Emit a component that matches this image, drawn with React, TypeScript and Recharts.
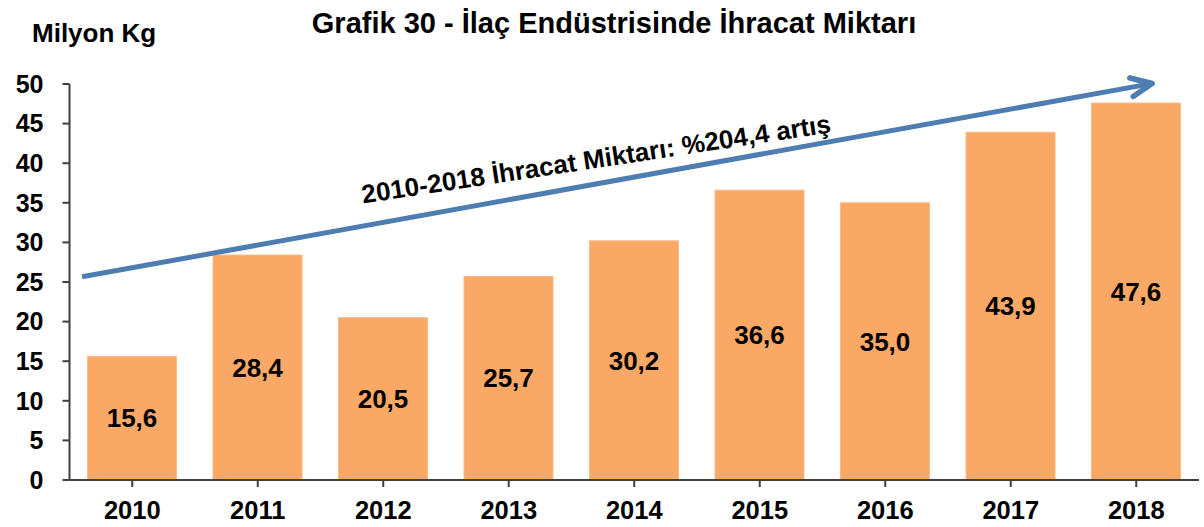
import React from 'react';
import { BarChart, Bar, XAxis, YAxis, LabelList, ReferenceLine } from 'recharts';

const years = ['2010', '2011', '2012', '2013', '2014', '2015', '2016', '2017', '2018'];
const exportValues = [15.6, 28.4, 20.5, 25.7, 30.2, 36.6, 35.0, 43.9, 47.6];
const yTicks = [0, 5, 10, 15, 20, 25, 30, 35, 40, 45, 50];
// trend arrow: value at the first / last category centre, extended by a fraction of a category
const trendStart = { x: '2010', y: 26.8 };
const trendEnd = { x: '2018', y: 49.7 };
const trendExtendBefore = 0.4; // categories
const trendExtendAfter = 0.127; // categories
const trendLabel = '2010-2018 İhracat Miktarı: %204,4 artış';
const title = 'Grafik 30 - İlaç Endüstrisinde İhracat Miktarı';
const unitLabel = 'Milyon Kg';

const data = years.map((year, i) => ({ year, value: exportValues[i] }));

const FONT = 'Arial, "Liberation Sans", Helvetica, sans-serif';
const ARROW = '#4E7DB1';

const fmt = (v: number) => v.toFixed(1).replace('.', ',');

const ArrowShape = (props: any) => {
  const { x1: cx1, y1: cy1, x2: cx2, y2: cy2 } = props;
  if ([cx1, cy1, cx2, cy2].some((v) => v == null || isNaN(v))) return null;
  const n = years.length - 1;
  const dx = (cx2 - cx1) / n;
  const dy = (cy2 - cy1) / n;
  const x1 = cx1 - dx * trendExtendBefore;
  const y1 = cy1 - dy * trendExtendBefore;
  const x2 = cx2 + dx * trendExtendAfter;
  const y2 = cy2 + dy * trendExtendAfter;
  const ang = Math.atan2(y2 - y1, x2 - x1);
  const len = 23;
  const spread = 0.42;
  const ax1 = x2 - len * Math.cos(ang - spread);
  const ay1 = y2 - len * Math.sin(ang - spread);
  const ax2 = x2 - len * Math.cos(ang + spread);
  const ay2 = y2 - len * Math.sin(ang + spread);
  const t = 0.462;
  const tx = cx1 + (cx2 - cx1) * t;
  const ty = cy1 + (cy2 - cy1) * t - 25;
  const deg = (ang * 180) / Math.PI + 1.6;
  return (
    <g>
      <line x1={x1} y1={y1} x2={x2 - 2 * Math.cos(ang)} y2={y2 - 2 * Math.sin(ang)} stroke={ARROW} strokeWidth={5} />
      <polyline
        points={`${ax1},${ay1} ${x2},${y2} ${ax2},${ay2}`}
        fill="none"
        stroke={ARROW}
        strokeWidth={5.5}
        strokeLinecap="round"
        strokeLinejoin="round"
      />
      <text
        x={tx}
        y={ty}
        textAnchor="middle"
        dominantBaseline="central"
        transform={`rotate(${deg}, ${tx}, ${ty})`}
        fontFamily={FONT}
        fontWeight="bold"
        fontSize={26}
        fill="#000"
      >
        {trendLabel}
      </text>
    </g>
  );
};

export default function App() {
  return (
    <div style={{ position: 'absolute', left: 0, top: 0, width: 1204, height: 527, background: '#fff', fontFamily: FONT }}>
      <div
        style={{
          position: 'absolute',
          left: 614 - 400,
          width: 800,
          top: 8.5,
          textAlign: 'center',
          fontWeight: 'bold',
          fontSize: 29,
          lineHeight: 1,
          color: '#000',
          whiteSpace: 'nowrap',
        }}
      >
        {title}
      </div>
      <div
        style={{
          position: 'absolute',
          left: 32,
          top: 20,
          fontWeight: 'bold',
          fontSize: 26,
          lineHeight: 1,
          color: '#000',
          whiteSpace: 'nowrap',
        }}
      >
        {unitLabel}
      </div>
      <div style={{ position: 'absolute', left: 0, top: 0 }}>
        <BarChart
          width={1204}
          height={527}
          data={data}
          margin={{ top: 84, right: 5, bottom: 0, left: 0 }}
          barCategoryGap="29%"
        >
          <XAxis
            dataKey="year"
            axisLine={{ stroke: '#404040', strokeWidth: 2 }}
            tickLine={{ stroke: '#404040', strokeWidth: 2 }}
            tickSize={7}
            interval={0}
            height={47}
            tick={{ fill: '#000', fontSize: 25.5, fontWeight: 'bold', fontFamily: FONT, dy: 12 }}
          />
          <YAxis
            domain={[0, 50]}
            ticks={yTicks}
            interval={0}
            width={69.5}
            axisLine={{ stroke: '#404040', strokeWidth: 2 }}
            tickLine={{ stroke: '#404040', strokeWidth: 2 }}
            tickSize={7}
            tick={{ fill: '#000', fontSize: 25, fontWeight: 'bold', fontFamily: FONT, dx: -17 }}
          />
          <Bar
            dataKey="value"
            barSize={89}
            fill="#FAA865"
            stroke="#FBBA86"
            strokeWidth={1}
            isAnimationActive={false}
          >
            <LabelList
              dataKey="value"
              position="center"
              formatter={(v: any) => fmt(Number(v))}
              style={{ fill: '#000', fontSize: 26, fontWeight: 'bold', fontFamily: FONT }}
            />
          </Bar>
          <ReferenceLine segment={[trendStart, trendEnd]} ifOverflow="visible" shape={ArrowShape} />
        </BarChart>
      </div>
    </div>
  );
}
